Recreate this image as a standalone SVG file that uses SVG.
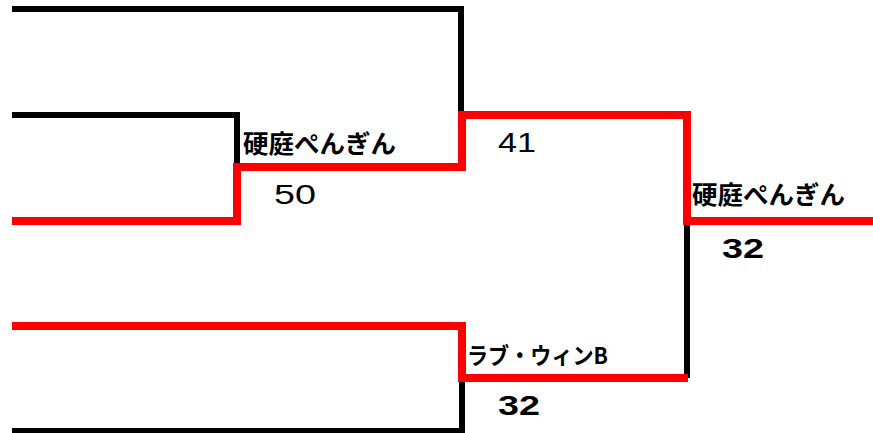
<svg xmlns="http://www.w3.org/2000/svg" width="873" height="433" viewBox="0 0 873 433">
<style>
.blk{fill:none;stroke:#000;stroke-width:6;stroke-linejoin:miter}
.red{fill:none;stroke:#ff0000;stroke-width:8;stroke-linejoin:miter}
.name{font-family:"Noto Sans CJK JP","Liberation Sans",sans-serif;font-weight:bold;fill:#000}
.score{font-family:"Liberation Sans","DejaVu Sans",sans-serif;font-size:27px;fill:#000}
.win{font-weight:bold}
</style>
<rect width="873" height="433" fill="#fff"/>
<g id="connectors">
<path class="blk" d="M12 9 H461 V115"/>
<path class="blk" d="M12 115 H237 V167"/>
<path class="blk" d="M687 221 V378"/>
<path class="blk" d="M12 431 H462 V378"/>
<path class="red" d="M12 221 H237 V167 H462 V115 H687 V221 H873"/>
<path class="red" d="M12 326 H462 V378 H688"/>
</g>
<g id="node-semi1">
<text class="name" x="243" y="153" font-size="25" textLength="153" lengthAdjust="spacingAndGlyphs">硬庭ぺんぎん</text>
<text class="score" x="274" y="204" textLength="42" lengthAdjust="spacingAndGlyphs">50</text>
</g>
<g id="node-final1">
<text class="score" x="498" y="152" textLength="38" lengthAdjust="spacingAndGlyphs">41</text>
</g>
<g id="node-semi2">
<text class="name" x="467" y="364" font-size="23" textLength="141" lengthAdjust="spacingAndGlyphs">ラブ・ウィンB</text>
<text class="score win" x="498" y="415" font-size="29" textLength="42" lengthAdjust="spacingAndGlyphs">32</text>
</g>
<g id="node-champion">
<text class="name" x="692" y="204" font-size="25" textLength="153" lengthAdjust="spacingAndGlyphs">硬庭ぺんぎん</text>
<text class="score win" x="722" y="258" font-size="29" textLength="42" lengthAdjust="spacingAndGlyphs">32</text>
</g>
</svg>
